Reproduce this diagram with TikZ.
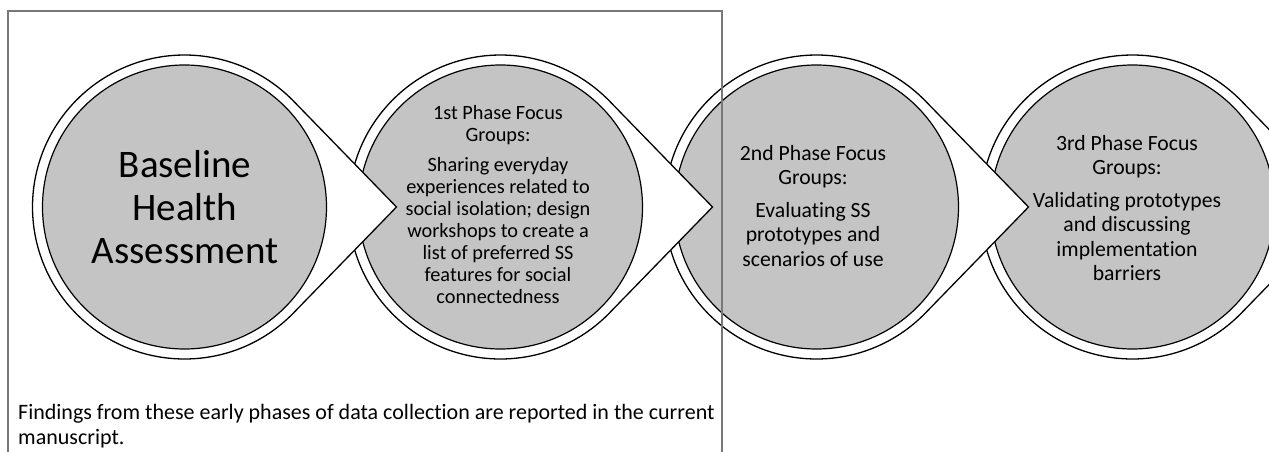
\documentclass[tikz,border=0pt]{standalone}
\usepackage{fontspec}
\setmainfont{Carlito}[Ligatures=NoCommon]
\usetikzlibrary{calc}
\definecolor{discgrey}{RGB}{196,196,196}
\definecolor{framegrey}{RGB}{120,120,120}
\tikzset{
  drop/.style={draw=black, fill=white, line width=1.3pt, line join=miter},
  disc/.style={circle, draw=black, fill=discgrey, line width=1.2pt,
               minimum size=284pt, inner sep=0pt},
  frameline/.style={draw=framegrey, line width=1.3pt},
  phasetext/.style={align=center, inner sep=0pt, text=black},
}
\begin{document}
\begin{tikzpicture}[x=1pt, y=-1pt]
  \useasboundingbox (0,0) rectangle (1269,452);
  \clip (0,0) rectangle (1269,452);
  \fill[white] (0,0) rectangle (1269,452);

  % teardrops with their grey discs, last one first so each tip overlaps the next disc
  \foreach \cx/\n in {1132.5/4, 816.5/3, 500.5/2, 184.5/1} {
    \draw[drop] (\cx+212,207) -- ($(\cx,207)+(44.3:152)$)
      arc[start angle=44.3, end angle=315.7, radius=152] -- cycle;
    \node[disc] (c\n) at (\cx,207) {};
  }

  % frame round the early phases
  \draw[frameline] (8,460) -- (8,11) -- (722,11) -- (722,460);

  % texts
  \node[phasetext, font=\fontsize{39}{43}\selectfont] (t1) at (185,207)
    {Baseline\\Health\\Assessment};
  \node[phasetext, font=\fontsize{20.3}{22}\selectfont] (t2) at (498,205)
    {1st Phase Focus\\Groups:\\[8pt]Sharing everyday\\experiences related to\\social isolation; design\\workshops to create a\\list of preferred SS\\features for social\\connectedness};
  \node[phasetext, font=\fontsize{21.7}{24.5}\selectfont] (t3) at (813,206)
    {2nd Phase Focus\\Groups:\\[8pt]Evaluating SS\\prototypes and\\scenarios of use};
  \node[phasetext, font=\fontsize{21.7}{24.5}\selectfont] (t4) at (1127,208)
    {3rd Phase Focus\\Groups:\\[8pt]Validating prototypes\\and discussing\\implementation\\barriers};
  \node[phasetext, align=left, anchor=north west, font=\fontsize{22}{25.5}\selectfont] (note) at (18,404)
    {Findings from these early phases of data collection are reported in the current\\manuscript.};
\end{tikzpicture}
\end{document}
